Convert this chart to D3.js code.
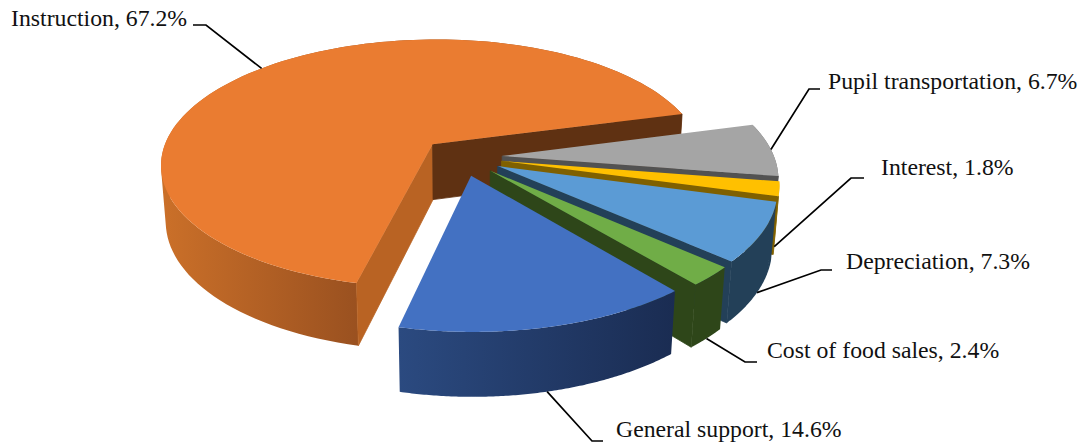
<!DOCTYPE html>
<html>
<head>
<meta charset="utf-8">
<script src="https://cdn.jsdelivr.net/npm/d3@7"></script>
<style>
  body { margin: 0; background: #fff; }
  svg { display: block; }
  text { font-family: "Liberation Serif", serif; font-size: 23.75px; fill: #111; }
</style>
</head>
<body>
<div id="chart"></div>
<script>
var categories = ["Instruction", "Pupil transportation", "Interest", "Depreciation", "Cost of food sales", "General support"]
var values = [67.2, 6.7, 1.8, 7.3, 2.4, 14.6]

// styles, same order as categories
var topColors = ["#EA7C31", "#A5A5A5", "#FFC000", "#5B9BD5", "#70AD47", "#4371C2"]
var faceColors = ["#B96323", "#525252", "#7F6000", "#234058", "#2E4619", "#1A2D54"]
var backFace = "#5F3112"
var wallLeft = ["#CB7029", "#6B6B6B", "#A67C00", "#234058", "#2E4619", "#2B4A80"]
var wallRight = ["#9A5120", "#6B6B6B", "#A67C00", "#234058", "#2E4619", "#1A2C52"]

// label anchor, leader elbow
var labelX = [11, 828, 881, 846, 767, 616]
var labelY = [26, 89, 175, 269, 358, 437]
var elbowX = [206, 809, 851, 821, 745, 592]
var elbowY = [25, 89, 178, 270, 362, 441]
var stubX = [193, 820, 864, 832, 757, 603]

var width = 1085, height = 444
var startDeg = 193, explode = 0.15

// view of the 3d disc
var cx = 461.5, cy = 157, rx = 272, ry = 125, depth = 57, persp = 0.158, persp2 = 0.016

function project(p, q, z) {
  var s = 1 / (1 - persp * q + persp2 * z)
  return [cx + rx * p * s, cy + (ry * q + depth * z) * s]
}
function rimPoint(mid, a, z) {
  return project(explode * Math.sin(mid) + Math.sin(a), -explode * Math.cos(mid) - Math.cos(a), z)
}
function apexPoint(mid, z) {
  return project(explode * Math.sin(mid), -explode * Math.cos(mid), z)
}

var pie = d3.pie().sort(null)
  .startAngle(startDeg * Math.PI / 180)
  .endAngle((startDeg + 360) * Math.PI / 180)
var arcs = pie(values)

var svg = d3.select("#chart").append("svg")
  .attr("width", width)
  .attr("height", height)
  .attr("viewBox", [0, 0, width, height])

var defs = svg.append("defs")
var line = d3.line()
var shape = pts => line(pts) + "Z"

arcs.forEach((d, i) => {
  var mid = (d.startAngle + d.endAngle) / 2
  var steps = d3.range(0, 121).map(k => d.startAngle + (d.endAngle - d.startAngle) * k / 120)
  var topRim = steps.map(a => rimPoint(mid, a, 0))
  var botRim = steps.map(a => rimPoint(mid, a, 1))
  var apexT = apexPoint(mid, 0), apexB = apexPoint(mid, 1)
  var g = svg.append("g")

  // gradient runs across the part of the rim facing the viewer
  var xs = steps.map((a, k) => Math.cos(a) < 0.05 ? topRim[k][0] : null).filter(x => x != null)
  var gradId = "wall" + i
  var grad = defs.append("linearGradient").attr("id", gradId)
    .attr("gradientUnits", "userSpaceOnUse")
    .attr("x1", d3.min(xs)).attr("x2", d3.max(xs)).attr("y1", 0).attr("y2", 0)
  grad.append("stop").attr("offset", 0).attr("stop-color", wallLeft[i])
  grad.append("stop").attr("offset", 1).attr("stop-color", wallRight[i])

  // wall as quads wound the same way, the rim folds over at the silhouette
  var wall = d3.range(0, 120).map(k => {
    var quad = [topRim[k], topRim[k + 1], botRim[k + 1], botRim[k]]
    if (d3.polygonArea(quad) < 0) quad.reverse()
    return shape(quad)
  }).join("")
  g.append("path").attr("d", wall)
    .attr("fill", "url(#" + gradId + ")")

  var startFace = [apexT, topRim[0], botRim[0], apexB]
  var endFace = [apexT, topRim[120], botRim[120], apexB]
  // d3.polygonArea sign tells which cut faces look at the viewer
  if (d3.polygonArea(startFace) > 0) {
    g.append("path").attr("d", shape(startFace))
      .attr("fill", faceColors[i]).attr("stroke", faceColors[i]).attr("stroke-width", 0.8)
  }
  if (d3.polygonArea(endFace) < 0) {
    var c = i == 0 ? backFace : faceColors[i]
    g.append("path").attr("d", shape(endFace))
      .attr("fill", c).attr("stroke", c).attr("stroke-width", 0.8)
  }

  g.append("path").attr("d", shape([apexT].concat(topRim))).attr("fill", topColors[i])
})

arcs.forEach((d, i) => {
  var mid = (d.startAngle + d.endAngle) / 2
  var z = Math.cos(mid) < -0.08 ? 1 : 0
  var anchor = rimPoint(mid, mid, z)
  svg.append("path")
    .attr("d", line([anchor, [elbowX[i], elbowY[i]], [stubX[i], elbowY[i]]]))
    .attr("fill", "none")
    .attr("stroke", "black")
    .attr("stroke-width", 1.7)
  svg.append("text")
    .text(categories[i] + ", " + values[i].toFixed(1) + "%")
    .attr("x", labelX[i])
    .attr("y", labelY[i])
})
</script>
</body>
</html>
